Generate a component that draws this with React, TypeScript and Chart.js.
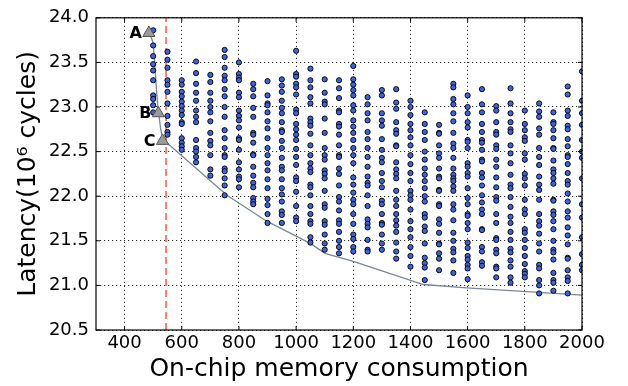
import { useEffect, useRef } from 'react';
import { Chart, registerables } from 'chart.js';

Chart.register(...registerables);

// ---- data ----
const memColumns = [500, 550, 600, 650, 700, 750, 800, 850, 900, 950, 1000, 1050, 1100, 1150, 1200, 1250, 1300, 1350, 1400, 1450, 1500, 1550, 1600, 1650, 1700, 1750, 1800, 1850, 1900, 1950, 2000];

const lat500 = [23.86, 23.69, 23.57, 23.48, 23.41, 23.30, 23.13, 23.09, 23.02, 22.94];
const lat550 = [23.62, 23.53, 23.44, 23.30, 23.25, 23.17, 23.04, 22.90, 22.80, 22.72, 22.69];
const lat600 = [23.30, 23.25, 23.17, 23.12, 23.06, 23.01, 22.96, 22.91, 22.83, 22.81, 22.65, 22.60, 22.56, 22.52];
const lat650 = [23.51, 23.38, 23.26, 23.16, 23.07, 22.96, 22.89, 22.83, 22.63, 22.54, 22.50, 22.44, 22.38];
const lat700 = [23.36, 23.28, 23.16, 23.07, 23.00, 22.94, 22.84, 22.71, 22.62, 22.57, 22.46, 22.30, 22.23];
const lat750 = [23.64, 23.56, 23.44, 23.35, 23.30, 23.20, 23.12, 23.00, 22.89, 22.74, 22.65, 22.54, 22.46, 22.44, 22.31, 22.28, 22.20, 22.12, 22.01];
const lat800 = [23.50, 23.37, 23.33, 23.30, 23.16, 23.11, 22.96, 22.90, 22.85, 22.77, 22.65, 22.63, 22.52, 22.38, 22.30, 22.22, 22.19, 22.10];
const lat850 = [23.26, 23.20, 23.12, 22.99, 22.89, 22.71, 22.69, 22.60, 22.47, 22.46, 22.33, 22.23, 22.15, 22.10, 21.98, 21.94, 21.91];
const lat900 = [23.29, 23.13, 23.04, 23.02, 22.94, 22.84, 22.76, 22.65, 22.54, 22.46, 22.37, 22.29, 22.19, 22.09, 21.97, 21.90, 21.80, 21.70];
const lat950 = [23.31, 23.24, 23.17, 23.07, 22.99, 22.93, 22.83, 22.74, 22.72, 22.62, 22.54, 22.43, 22.33, 22.29, 22.19, 22.09, 22.02, 21.94, 21.83, 21.79, 21.70];
const lat1000 = [23.63, 23.37, 23.34, 23.26, 23.22, 23.14, 22.97, 22.93, 22.81, 22.75, 22.69, 22.63, 22.53, 22.44, 22.35, 22.21, 22.17, 22.05, 21.89, 21.76, 21.72];
const lat1050 = [23.43, 23.30, 23.22, 23.11, 23.04, 22.87, 22.83, 22.79, 22.70, 22.57, 22.46, 22.37, 22.31, 22.27, 22.13, 22.10, 22.01, 21.89, 21.80, 21.72, 21.69, 21.54, 21.48];
const lat1100 = [23.31, 23.16, 23.06, 23.03, 22.87, 22.71, 22.54, 22.46, 22.41, 22.29, 22.25, 22.20, 22.06, 21.91, 21.87, 21.72, 21.68, 21.57, 21.47, 21.40];
const lat1150 = [23.30, 23.21, 23.10, 22.96, 22.94, 22.81, 22.78, 22.69, 22.57, 22.46, 22.44, 22.31, 22.25, 22.12, 21.99, 21.94, 21.84, 21.73, 21.69, 21.60, 21.50, 21.43, 21.36];
const lat1200 = [23.46, 23.31, 23.25, 23.19, 23.13, 23.02, 22.96, 22.85, 22.78, 22.71, 22.63, 22.54, 22.46, 22.37, 22.21, 22.13, 22.04, 21.96, 21.91, 21.80, 21.69, 21.57, 21.52, 21.43, 21.38];
const lat1250 = [23.11, 23.03, 22.93, 22.85, 22.72, 22.64, 22.54, 22.44, 22.33, 22.22, 22.15, 22.12, 22.01, 21.89, 21.74, 21.69, 21.65, 21.51, 21.40, 21.38];
const lat1300 = [23.19, 23.13, 22.93, 22.85, 22.79, 22.64, 22.52, 22.43, 22.38, 22.26, 22.17, 22.10, 21.95, 21.91, 21.80, 21.70, 21.68, 21.57, 21.47, 21.40];
const lat1350 = [23.20, 23.05, 22.98, 22.83, 22.74, 22.70, 22.57, 22.56, 22.38, 22.30, 22.25, 22.20, 22.06, 21.96, 21.89, 21.80, 21.73, 21.67, 21.60, 21.48, 21.38, 21.30];
const lat1400 = [23.07, 23.00, 22.91, 22.81, 22.74, 22.66, 22.57, 22.46, 22.36, 22.26, 22.17, 22.06, 22.01, 21.96, 21.85, 21.72, 21.63, 21.54, 21.43, 21.33, 21.21];
const lat1450 = [22.94, 22.81, 22.72, 22.63, 22.50, 22.41, 22.31, 22.24, 22.17, 22.09, 22.00, 21.94, 21.80, 21.76, 21.66, 21.61, 21.47, 21.31, 21.25, 21.20, 21.06];
const lat1500 = [22.80, 22.71, 22.70, 22.57, 22.48, 22.43, 22.31, 22.22, 22.20, 22.07, 22.06, 21.91, 21.89, 21.74, 21.69, 21.59, 21.47, 21.46, 21.36, 21.30, 21.17];
const lat1550 = [23.26, 23.22, 23.09, 23.03, 22.93, 22.84, 22.71, 22.59, 22.54, 22.43, 22.31, 22.24, 22.20, 22.17, 22.11, 22.06, 21.91, 21.85, 21.73, 21.59, 21.50, 21.41, 21.37, 21.28, 21.14];
const lat1600 = [23.13, 23.00, 22.93, 22.83, 22.77, 22.63, 22.61, 22.54, 22.37, 22.33, 22.26, 22.22, 22.09, 21.98, 21.91, 21.80, 21.78, 21.70, 21.63, 21.48, 21.42, 21.33, 21.29, 21.23, 21.19, 21.07];
const lat1650 = [23.20, 23.03, 22.94, 22.81, 22.72, 22.63, 22.60, 22.52, 22.41, 22.39, 22.26, 22.21, 22.12, 22.01, 21.93, 21.85, 21.80, 21.63, 21.62, 21.43, 21.38, 21.26, 21.22];
const lat1700 = [23.01, 22.96, 22.83, 22.72, 22.69, 22.57, 22.53, 22.41, 22.33, 22.21, 22.10, 21.99, 21.95, 21.80, 21.70, 21.53, 21.51, 21.40, 21.36, 21.21, 21.19, 21.09];
const lat1750 = [23.21, 23.04, 22.93, 22.83, 22.75, 22.72, 22.57, 22.48, 22.37, 22.24, 22.13, 22.09, 21.99, 21.88, 21.77, 21.70, 21.60, 21.51, 21.41, 21.37, 21.28, 21.21, 21.09, 21.03];
const lat1800 = [22.96, 22.81, 22.74, 22.66, 22.62, 22.48, 22.41, 22.25, 22.20, 22.12, 21.96, 21.85, 21.80, 21.63, 21.59, 21.51, 21.42, 21.33, 21.24, 21.16, 21.13, 21.09];
const lat1850 = [23.04, 22.95, 22.89, 22.76, 22.69, 22.54, 22.44, 22.35, 22.22, 22.13, 22.07, 21.96, 21.80, 21.72, 21.67, 21.58, 21.47, 21.38, 21.23, 21.19, 21.06, 21.00, 20.91];
const lat1900 = [22.94, 22.83, 22.81, 22.74, 22.65, 22.54, 22.53, 22.40, 22.30, 22.26, 22.20, 22.14, 21.96, 21.95, 21.83, 21.79, 21.72, 21.63, 21.50, 21.40, 21.37, 21.29, 21.14, 21.06, 21.03, 20.94];
const lat1950 = [23.23, 23.14, 22.96, 22.90, 22.79, 22.75, 22.64, 22.56, 22.46, 22.44, 22.36, 22.26, 22.17, 22.13, 22.03, 21.94, 21.83, 21.76, 21.65, 21.56, 21.46, 21.31, 21.30, 21.17, 21.09, 21.05, 20.91];
const lat2000 = [23.40, 23.07, 22.93, 22.80, 22.63, 22.50, 22.43, 22.20, 21.91, 21.76, 21.54, 21.35, 21.23, 21.17];

const latencyColumns = [lat500, lat550, lat600, lat650, lat700, lat750, lat800, lat850, lat900, lat950, lat1000, lat1050, lat1100, lat1150, lat1200, lat1250, lat1300, lat1350, lat1400, lat1450, lat1500, lat1550, lat1600, lat1650, lat1700, lat1750, lat1800, lat1850, lat1900, lat1950, lat2000];

const paretoMem = [487, 500, 506, 512, 518, 526, 535, 558, 758, 897, 1002, 1055, 1101, 1200, 1445, 1609, 1807, 2000];
const paretoLat = [23.83, 23.72, 23.46, 23.17, 22.96, 22.76, 22.62, 22.57, 22.01, 21.72, 21.55, 21.46, 21.36, 21.27, 21.01, 20.97, 20.93, 20.89];

const markLabels = ['A', 'B', 'C'];
const markMem = [485, 518, 533];
const markLat = [23.83, 22.93, 22.62];

const memLimit = 545;

const xTicks = [400, 600, 800, 1000, 1200, 1400, 1600, 1800, 2000];
const yTicks = [20.5, 21.0, 21.5, 22.0, 22.5, 23.0, 23.5, 24.0];
const xMin = 300;
const xMax = 2000;
const yMin = 20.5;
const yMax = 24.0;

const FONT = 'DejaVu Sans';

export default function App() {
  const ref = useRef<HTMLCanvasElement | null>(null);

  useEffect(() => {
    if (!ref.current) return;

    const designs: { x: number; y: number }[] = [];
    memColumns.forEach((m, i) => {
      latencyColumns[i].forEach((l) => designs.push({ x: m, y: l }));
    });
    const pareto = paretoMem.map((m, i) => ({ x: m, y: paretoLat[i] }));
    const marks = markMem.map((m, i) => ({ x: m, y: markLat[i] }));

    const framePlugin = {
      id: 'frame',
      afterDatasetsDraw(chart: any) {
        const { ctx, chartArea } = chart;
        const { left, right, top, bottom } = chartArea;
        // labels A/B/C
        const meta = chart.getDatasetMeta(0);
        ctx.save();
        ctx.fillStyle = '#000';
        ctx.font = `bold 16px "${FONT}"`;
        ctx.textAlign = 'right';
        ctx.textBaseline = 'middle';
        meta.data.forEach((el: any, i: number) => {
          ctx.fillText(markLabels[i], el.x - 7, el.y + 1);
        });
        ctx.restore();
      },
      afterDraw(chart: any) {
        const { ctx, chartArea, scales } = chart;
        const { left, right, top, bottom } = chartArea;
        ctx.save();
        ctx.strokeStyle = '#000';
        ctx.lineWidth = 1.2;
        ctx.strokeRect(left, top, right - left, bottom - top);
        ctx.lineWidth = 1;
        const tl = 4;
        ctx.beginPath();
        xTicks.forEach((v) => {
          const px = scales.x.getPixelForValue(v);
          ctx.moveTo(px, bottom);
          ctx.lineTo(px, bottom - tl);
          ctx.moveTo(px, top);
          ctx.lineTo(px, top + tl);
        });
        yTicks.forEach((v) => {
          const py = scales.y.getPixelForValue(v);
          ctx.moveTo(left, py);
          ctx.lineTo(left + tl, py);
          ctx.moveTo(right, py);
          ctx.lineTo(right - tl, py);
        });
        ctx.stroke();
        ctx.restore();
      },
    };

    const chart = new Chart(ref.current, {
      type: 'scatter',
      data: {
        datasets: [
          {
            label: 'marks',
            data: marks,
            pointStyle: 'triangle',
            pointRadius: 7,
            pointBackgroundColor: '#9a9a9a',
            pointBorderColor: '#555',
            pointBorderWidth: 1,
            clip: 0,
          } as any,
          {
            label: 'designs',
            data: designs,
            pointRadius: 2.6,
            pointBackgroundColor: '#3f63d8',
            pointBorderColor: '#000',
            pointBorderWidth: 0.9,
            clip: 0,
          } as any,
          {
            label: 'pareto',
            data: pareto,
            showLine: true,
            borderColor: '#778899',
            borderWidth: 1.3,
            pointRadius: 0,
            tension: 0,
            clip: 0,
          } as any,
          {
            label: 'limit',
            data: [
              { x: memLimit, y: yMin },
              { x: memLimit, y: yMax },
            ],
            showLine: true,
            borderColor: '#ff6633',
            borderWidth: 1.6,
            borderDash: [7, 4],
            pointRadius: 0,
            clip: 0,
          } as any,
        ],
      },
      options: {
        animation: false,
        responsive: false,
        maintainAspectRatio: false,
        layout: { padding: { top: 15, right: 46, left: 0, bottom: 0 } },
        plugins: {
          legend: { display: false },
          tooltip: { enabled: false },
        },
        scales: {
          x: {
            type: 'linear',
            min: xMin,
            max: xMax,
            afterBuildTicks: (s: any) => {
              s.ticks = xTicks.map((v) => ({ value: v }));
            },
            afterFit: (s: any) => {
              s.height = 56;
            },
            ticks: {
              color: '#000',
              font: { family: FONT, size: 18 },
              padding: 3,
              maxRotation: 0,
              autoSkip: false,
              callback: (v: any) => String(v),
            },
            grid: { color: '#000', lineWidth: 0.8, drawTicks: false },
            border: { display: false, dash: [1.2, 2.8] },
            title: {
              display: true,
              text: 'On-chip memory consumption',
              color: '#000',
              font: { family: FONT, size: 25 },
              padding: { top: 0, bottom: 2 },
            },
          },
          y: {
            type: 'linear',
            min: yMin,
            max: yMax,
            afterBuildTicks: (s: any) => {
              s.ticks = yTicks.map((v) => ({ value: v }));
            },
            afterFit: (s: any) => {
              s.width = 96;
            },
            ticks: {
              color: '#000',
              font: { family: FONT, size: 18 },
              padding: 7,
              autoSkip: false,
              callback: (v: any) => Number(v).toFixed(1),
            },
            grid: { color: '#000', lineWidth: 0.8, drawTicks: false },
            border: { display: false, dash: [1.2, 2.8] },
            title: {
              display: true,
              text: 'Latency(10⁶ cycles)',
              color: '#000',
              font: { family: FONT, size: 25 },
              padding: { top: 13, bottom: 0 },
            },
          },
        },
      } as any,
      plugins: [framePlugin],
    });

    return () => chart.destroy();
  }, []);

  return (
    <div style={{ position: 'absolute', left: 0, top: 0, width: 628, height: 386, background: '#fff' }}>
      <canvas ref={ref} width={628} height={386} style={{ display: 'block', width: 628, height: 386 }} />
    </div>
  );
}
